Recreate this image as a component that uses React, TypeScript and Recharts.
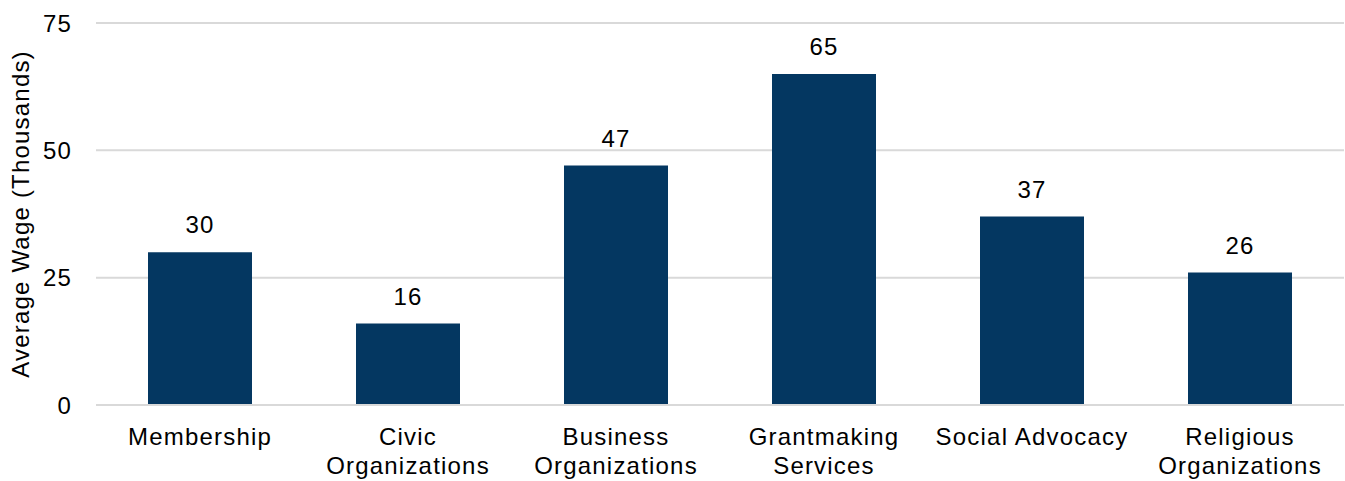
import React from "react";
import { BarChart, Bar, XAxis, YAxis, CartesianGrid, LabelList } from "recharts";

const categories = [
  "Membership",
  "Civic Organizations",
  "Business Organizations",
  "Grantmaking Services",
  "Social Advocacy",
  "Religious Organizations",
];
const wages = [30, 16, 47, 65, 37, 26];
const yTicks = [0, 25, 50, 75];

const data = categories.map((name, i) => ({ name, wage: wages[i] }));

const FONT = "'Liberation Sans', Arial, sans-serif";
const TXT = { fontSize: 24, fontFamily: FONT, fill: "#000", letterSpacing: 1.2 };

const wrap = (s: string): string[] => {
  if (s.length <= 16) return [s];
  const i = s.indexOf(" ");
  return i < 0 ? [s] : [s.slice(0, i), s.slice(i + 1)];
};

const XTick = (props: any) => {
  const { x, y, payload } = props;
  const lines = wrap(String(payload.value));
  return (
    <text x={x} y={y + 32} textAnchor="middle" style={TXT}>
      {lines.map((l, i) => (
        <tspan key={i} x={x} dy={i === 0 ? 0 : 29}>
          {l}
        </tspan>
      ))}
    </text>
  );
};

export default function App() {
  return (
    <div style={{ position: "absolute", left: 0, top: 0, width: 1345, height: 481, background: "#fff" }}>
      <BarChart
        width={1345}
        height={481}
        data={data}
        margin={{ top: 23, right: 1, bottom: 0, left: 0 }}
        barCategoryGap="25%"
      >
        <CartesianGrid vertical={false} stroke="#d9d9d9" strokeWidth={2} />
        <XAxis
          dataKey="name"
          height={76}
          interval={0}
          axisLine={{ stroke: "#d9d9d9", strokeWidth: 2 }}
          tickLine={false}
          tick={<XTick />}
        />
        <YAxis
          width={96}
          domain={[0, 75]}
          ticks={yTicks}
          axisLine={false}
          tickLine={false}
          tickSize={0}
          tickMargin={24}
          tick={TXT}
          label={{
            value: "Average Wage (Thousands)",
            angle: -90,
            position: "insideLeft",
            dx: 15,
            style: { ...TXT, textAnchor: "middle" },
          }}
        />
        <Bar dataKey="wage" fill="#043761" isAnimationActive={false}>
          <LabelList dataKey="wage" position="top" offset={19} style={TXT} />
        </Bar>
      </BarChart>
    </div>
  );
}
